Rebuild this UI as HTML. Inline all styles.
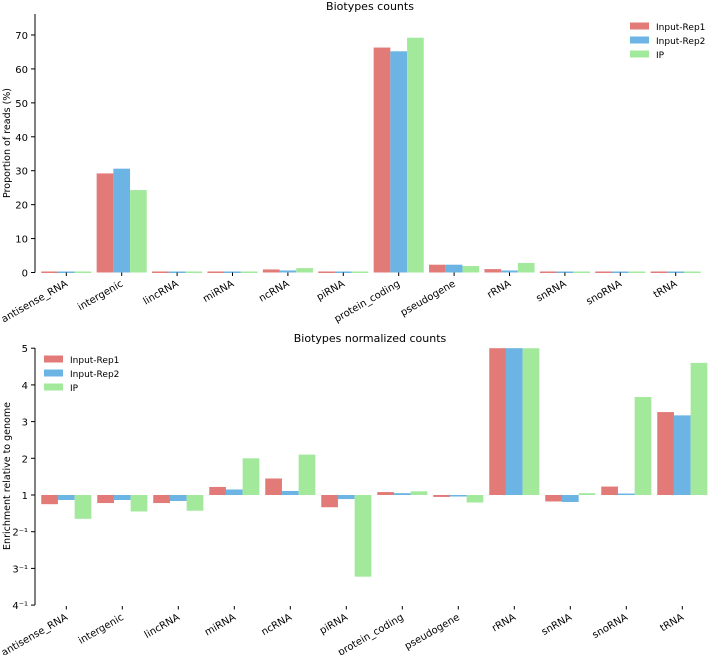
<!DOCTYPE html>
<html><head><meta charset="utf-8"><style>
body{margin:0;background:#fff;}
svg{display:block;font-family:"DejaVu Sans","Liberation Sans",sans-serif;}
</style></head><body>
<svg id="c" width="709" height="655" viewBox="0 0 709 655"></svg>
<script>
const categories=["antisense_RNA","intergenic","lincRNA","miRNA","ncRNA","piRNA","protein_coding","pseudogene","rRNA","snRNA","snoRNA","tRNA"];
const seriesNames=["Input-Rep1","Input-Rep2","IP"];
const colors=["#e27a78","#6cb4e3","#a3e99c"];
const countsRep1=[0.3,29.2,0.3,0.3,0.9,0.3,66.3,2.3,1.0,0.3,0.3,0.3];
const countsRep2=[0.3,30.6,0.3,0.3,0.6,0.3,65.2,2.3,0.6,0.3,0.3,0.3];
const countsIP=[0.3,24.3,0.3,0.3,1.3,0.3,69.2,1.9,2.8,0.3,0.3,0.3];
const normRep1=[0.8,0.82,0.82,1.22,1.45,0.75,1.08,0.95,5,0.85,1.23,3.26];
const normRep2=[0.88,0.88,0.86,1.15,1.11,0.9,1.05,0.96,5,0.84,1.04,3.17];
const normIP=[0.606,0.69,0.70,2.0,2.1,0.31,1.1,0.83,5,1.05,3.67,4.6];
const topTicks=[0,10,20,30,40,50,60,70];
const botTickVals=[0.25,1/3,0.5,1,2,3,4,5];
const botTickLabels=["4\u207B\u00B9","3\u207B\u00B9","2\u207B\u00B9","1","2","3","4","5"];

const svg=document.getElementById('c');
const NS="http://www.w3.org/2000/svg";
function mk(tag,attrs,parent){const e=document.createElementNS(NS,tag);for(const k in attrs)e.setAttribute(k,attrs[k]);(parent||svg).appendChild(e);return e;}
function txt(s,attrs,parent){const e=mk('text',attrs,parent);e.textContent=s;return e;}

const yTop=v=>272.5-v*(237.5/70);
const fBot=v=>v>=1?v-1:1-1/v;
const yBot=v=>495-36.7*fBot(v);
const xTop=i=>66.3+i*55.4;
const xBot=i=>66.3+i*56;
const bw=16.7;

function drawPanel(opts){
  const g=mk('g',{});
  
  
  const t=txt(opts.title,{x:370,y:opts.titleY,'text-anchor':'middle','font-size':11,fill:'#000'},g);
  
  
  opts.series.forEach((arr,s)=>{
    arr.forEach((v,i)=>{
      const xc=opts.x(i)+(s-1)*bw;
      const y1=opts.y(v), y0=opts.y(opts.base);
      const r=mk('rect',{x:xc-bw/2,y:Math.min(y1,y0),width:bw,height:Math.max(Math.abs(y0-y1),1.5),fill:colors[s]},g);
      
      
    });
  });
  const ax=mk('line',{x1:35,x2:35,y1:opts.yTopPx,y2:opts.yBotPx,stroke:'#000','stroke-width':1},g);
  
  
  opts.ticks.forEach((v,k)=>{
    const y=opts.y(v);
    mk('line',{x1:31,x2:35,y1:y,y2:y,stroke:'#000'},g);
    const l=txt(opts.tickLabels[k],{x:28,y:y+4,'text-anchor':'end','font-size':10},g);
    
    
  });
  const yl=txt(opts.ylabel,{x:0,y:0,'text-anchor':'middle','font-size':9.5,transform:`translate(10,${opts.ylabelY}) rotate(-90)`},g);
  
  
  categories.forEach((c,i)=>{
    const x=opts.x(i);
    mk('line',{x1:x,x2:x,y1:opts.xTickY,y2:opts.xTickY+3.5,stroke:'#000'},g);
    const tx=x+2, ty=opts.xTickY+13;
    const l=txt(c,{x:tx,y:ty,'text-anchor':'end','font-size':10,transform:`rotate(-30 ${tx} ${ty})`},g);
    
    
  });
  const lg=mk('g',{},g);
  
  
  seriesNames.forEach((n,s)=>{
    const y=opts.legY+s*14;
    mk('rect',{x:opts.legX,y:y-3.5,width:19,height:7,fill:colors[s]},lg);
    const l=txt(n,{x:opts.legX+26,y:y+4,'font-size':9},lg);
    
    
  });
}
drawPanel({name:'counts-chart',title:'Biotypes counts',titleY:10,series:[countsRep1,countsRep2,countsIP],
  x:xTop,y:yTop,base:0,yTopPx:14,yBotPx:272.5,ticks:topTicks,tickLabels:topTicks.map(String),
  ylabel:'Proportion of reads (%)',ylabelY:143,xTickY:272.5,legX:630,legY:26});
drawPanel({name:'normalized-chart',title:'Biotypes normalized counts',titleY:342,series:[normRep1,normRep2,normIP],
  x:xBot,y:yBot,base:1,yTopPx:348,yBotPx:605,ticks:botTickVals,tickLabels:botTickLabels,
  ylabel:'Enrichment relative to genome',ylabelY:476,xTickY:606,legX:44,legY:359});
</script>
</body></html>
